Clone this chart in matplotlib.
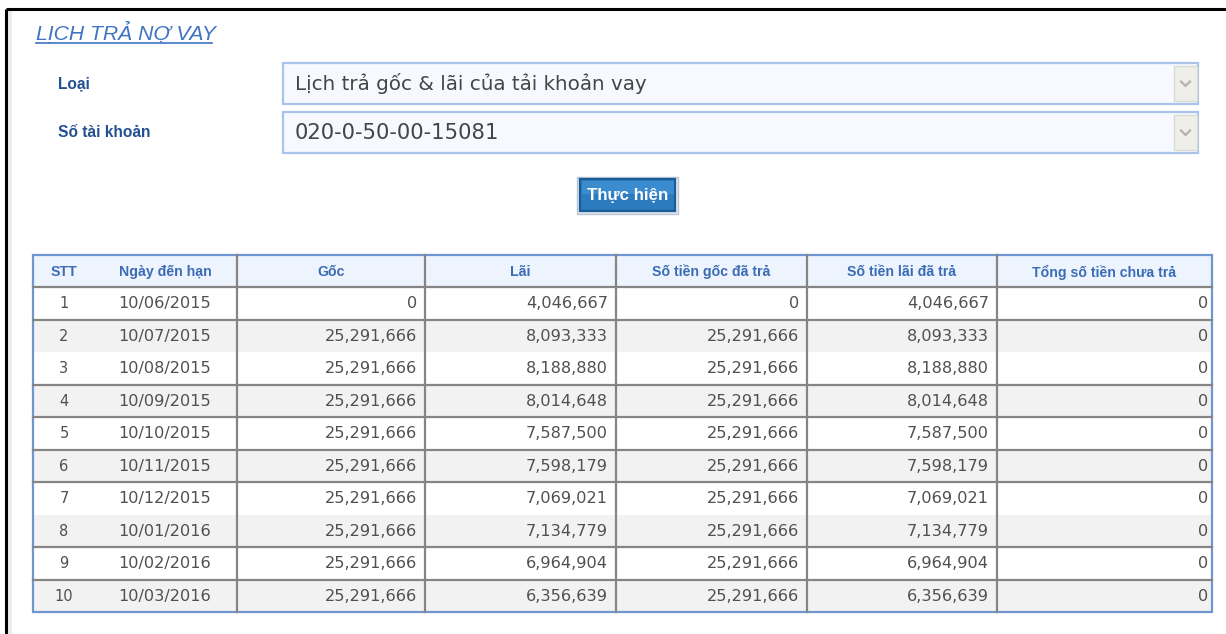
"""Recreate the loan repayment schedule screen (Lịch trả nợ vay) as a static figure."""

import matplotlib

matplotlib.use("Agg")
import matplotlib.pyplot as plt
from matplotlib.patches import Rectangle

# ---- data -------------------------------------------------------------
page_title = "LỊCH TRẢ NỢ VAY"
form_labels = ["Loại", "Số tài khoản"]
form_values = ["Lịch trả gốc & lãi của tải khoản vay", "020-0-50-00-15081"]
button_label = "Thực hiện"

headers = ["STT", "Ngày đến hạn", "Gốc", "Lãi",
           "Số tiền gốc đã trả", "Số tiền lãi đã trả", "Tổng số tiền chưa trả"]
stt = [1, 2, 3, 4, 5, 6, 7, 8, 9, 10]
due_dates = ["10/06/2015", "10/07/2015", "10/08/2015", "10/09/2015", "10/10/2015",
             "10/11/2015", "10/12/2015", "10/01/2016", "10/02/2016", "10/03/2016"]
principal = [0, 25291666, 25291666, 25291666, 25291666,
             25291666, 25291666, 25291666, 25291666, 25291666]
interest = [4046667, 8093333, 8188880, 8014648, 7587500,
            7598179, 7069021, 7134779, 6964904, 6356639]
principal_paid = [0, 25291666, 25291666, 25291666, 25291666,
                  25291666, 25291666, 25291666, 25291666, 25291666]
interest_paid = [4046667, 8093333, 8188880, 8014648, 7587500,
                 7598179, 7069021, 7134779, 6964904, 6356639]
total_unpaid = [0, 0, 0, 0, 0, 0, 0, 0, 0, 0]

# ---- layout (pixels) -------------------------------------------------------
W, H = 1226, 634
TABLE_LEFT, TABLE_RIGHT = 33, 1212
HEADER_TOP, HEADER_BOTTOM = 255, 287
ROW_H = 32.5
col_edges = [TABLE_LEFT, 237, 425, 616, 807, 997, TABLE_RIGHT]
# row boundaries that show a grey rule in the screenshot (top edge of row i)
ruled_rows = [1, 3, 4, 5, 6, 8, 9]

LABEL_BLUE = "#24508f"
TITLE_BLUE = "#3f74c2"
HEAD_BLUE = "#3b6cb6"
TEXT_GREY = "#505050"
GRID_GREY = "#858585"
FRAME_BLUE = "#7096d0"

fig = plt.figure(figsize=(W / 100, H / 100), dpi=100)
ax = fig.add_axes([0, 0, 1, 1])
ax.set_xlim(0, W)
ax.set_ylim(H, 0)
ax.axis("off")

# page frame
ax.plot([6, W], [9, 9], color="black", lw=2.2, solid_capstyle="butt")
ax.plot([6, 6], [9, H], color="black", lw=2.2, solid_capstyle="butt")
ax.add_patch(Rectangle((7.5, 10), 4, H - 10, facecolor="#ececec", edgecolor="none"))

# title
ax.text(36, 39.5, page_title, fontsize=15.2, style="italic", color=TITLE_BLUE,
        family="Liberation Sans", va="baseline", ha="left")
ax.plot([36, 212], [42.5, 42.5], color=TITLE_BLUE, lw=1.2)

# form rows
box_tops = [63, 112]
value_sizes = [14.3, 15.2]
for label, value, top, size in zip(form_labels, form_values, box_tops, value_sizes):
  mid = top + 20.5
  ax.text(58, mid, label, fontsize=11.2, fontweight="bold", color=LABEL_BLUE,
          family="Liberation Sans", va="center", ha="left")
  ax.add_patch(Rectangle((283, top), 915, 41, facecolor="#f6f9ff",
                         edgecolor="#a9c3ea", lw=1.6))
  ax.add_patch(Rectangle((1174, top + 3), 23, 35, facecolor="#efefe9",
                         edgecolor="#dcdcd4", lw=1.0))
  ax.plot([1181, 1185.5, 1190], [mid - 2, mid + 2.5, mid - 2], color="#b4b4ac", lw=1.6)
  ax.text(295, mid + 0.5, value, fontsize=size, color="#454545",
          family="DejaVu Sans", va="center", ha="left")

# button
ax.add_patch(Rectangle((577, 176.5), 101, 37.5, facecolor="#dfe6ee", edgecolor="#b9c6d4", lw=1.0))
ax.add_patch(Rectangle((580, 179), 95, 32, facecolor="#2c7bbf", edgecolor="#1b5c97", lw=1.6))
ax.add_patch(Rectangle((581.5, 180.5), 92, 13, facecolor="#3b8bcf", edgecolor="none"))
ax.text(627.5, 195.5, button_label, fontsize=12.2, fontweight="bold", color="white",
        family="Liberation Sans", va="center", ha="center")

# table header
n_rows = len(stt)
table_bottom = HEADER_BOTTOM + n_rows * ROW_H
ax.add_patch(Rectangle((TABLE_LEFT, HEADER_TOP), TABLE_RIGHT - TABLE_LEFT,
                       HEADER_BOTTOM - HEADER_TOP, facecolor="#eef4fd", edgecolor="none"))
for i in range(n_rows):
  if i % 2 == 1:
    ax.add_patch(Rectangle((TABLE_LEFT, HEADER_BOTTOM + i * ROW_H),
                           TABLE_RIGHT - TABLE_LEFT, ROW_H,
                           facecolor="#f2f2f2", edgecolor="none"))

# grid lines
for x in col_edges[1:-1]:
  ax.plot([x, x], [HEADER_TOP, table_bottom], color=GRID_GREY, lw=1.6)
ax.plot([TABLE_LEFT, TABLE_RIGHT], [HEADER_BOTTOM, HEADER_BOTTOM], color=GRID_GREY, lw=1.6)
for i in ruled_rows:
  y = HEADER_BOTTOM + i * ROW_H
  ax.plot([TABLE_LEFT, TABLE_RIGHT], [y, y], color=GRID_GREY, lw=1.6)
ax.add_patch(Rectangle((TABLE_LEFT, HEADER_TOP), TABLE_RIGHT - TABLE_LEFT,
                       table_bottom - HEADER_TOP, facecolor="none",
                       edgecolor=FRAME_BLUE, lw=1.6))

# header labels
header_x = [64, 165] + [(a + b) / 2 for a, b in zip(col_edges[1:-1], col_edges[2:])]
header_x[-1] = 1104
for x, label in zip(header_x, headers):
  ax.text(x, (HEADER_TOP + HEADER_BOTTOM) / 2 + 1, label, fontsize=10.2, fontweight="bold",
          color=HEAD_BLUE, family="Liberation Sans", va="center", ha="center")

# body cells
money_cols = [principal, interest, principal_paid, interest_paid, total_unpaid]
for i in range(n_rows):
  yc = HEADER_BOTTOM + (i + 0.5) * ROW_H + 0.5
  ax.text(64, yc, str(stt[i]), fontsize=10.5, color=TEXT_GREY,
          family="DejaVu Sans", va="center", ha="center")
  ax.text(165, yc, due_dates[i], fontsize=11.6, color=TEXT_GREY,
          family="DejaVu Sans", va="center", ha="center")
  for c, series in enumerate(money_cols):
    right = col_edges[c + 2] - 8 if c < 4 else TABLE_RIGHT - 4
    ax.text(right, yc, f"{series[i]:,}", fontsize=11.6, color=TEXT_GREY,
            family="DejaVu Sans", va="center", ha="right")

fig.savefig("out.png", dpi=100)
